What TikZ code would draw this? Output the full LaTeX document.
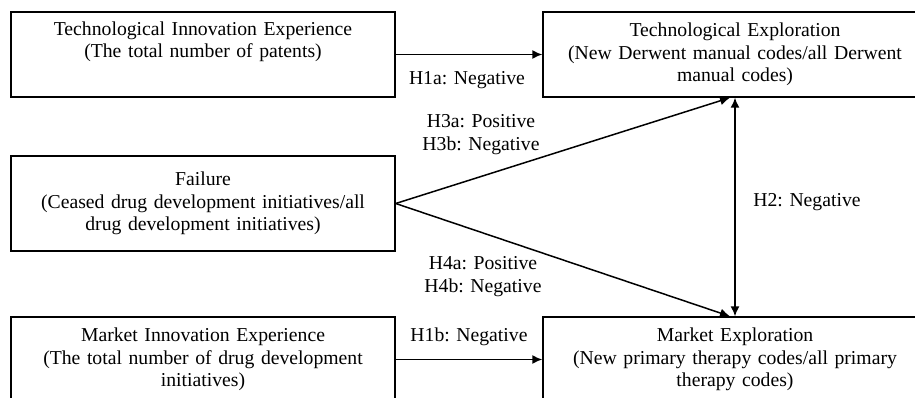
\documentclass[tikz,border=0pt]{standalone}
\usepackage{fontspec}
\setmainfont{Liberation Serif}
\usetikzlibrary{arrows.meta}

\tikzset{
  varbox/.style={draw, line width=1.4bp, minimum width=384bp, minimum height=85bp,
    text width=370bp, align=center, inner sep=0pt},
  hyplabel/.style={inner sep=0pt, align=center},
  link/.style={->, >={Latex[length=10bp,width=9bp]}, line width=1.5bp}
}

\begin{document}
\begin{tikzpicture}[x=10bp, y=-10bp, font=\fontsize{19.7bp}{22.6bp}\selectfont]
  \useasboundingbox (0, 0) rectangle (91.5, 39.8);

  \node[varbox]
    (tie) at (20.3, 5.45) {Technological Innovation Experience\\(The total number of patents)\\ \strut};

  \node[varbox, minimum height=95bp]
    (fail) at (20.3, 20.35) {Failure\\(Ceased drug development initiatives/all\\drug development initiatives)};

  \node[varbox]
    (mie) at (20.3, 35.95) {Market Innovation Experience\\(The total number of drug development\\initiatives)};

  \node[varbox]
    (te) at (73.5, 5.45) {Technological Exploration\\(New Derwent manual codes/all Derwent\\manual codes)};

  \node[varbox]
    (me) at (73.5, 35.95) {Market Exploration\\(New primary therapy codes/all primary\\therapy codes)};

  \node[hyplabel] (h1a) at (46.7, 8.0) {H1a: Negative};
  \node[hyplabel] (h3) at (48.1, 13.45) {H3a: Positive\\H3b: Negative};
  \node[hyplabel] (h2) at (80.7, 20.2) {H2: Negative};
  \node[hyplabel] (h4) at (48.3, 27.65) {H4a: Positive\\H4b: Negative};
  \node[hyplabel] (h1b) at (46.9, 33.7) {H1b: Negative};

  \draw[link]
    (tie) -- (te);

  \draw[link]
    (mie) -- (me);

  \draw[link]
    (fail.east) -- ([xshift=-5bp]te.south);

  \draw[link]
    (fail.east) -- ([xshift=-5bp]me.north);

  \draw[link, <->]
    (te.south) -- (me.north);
\end{tikzpicture}
\end{document}
